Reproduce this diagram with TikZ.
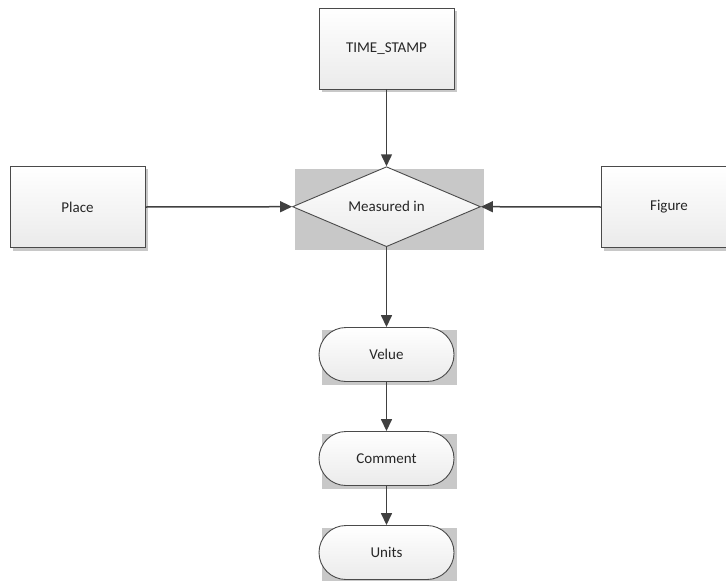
\documentclass[tikz,border=0pt]{standalone}
\usepackage{fontspec}
\setmainfont{Carlito}
\usetikzlibrary{shapes.geometric,arrows.meta,calc,backgrounds}
\definecolor{edgec}{HTML}{4A4A4A}
\definecolor{linec}{HTML}{404040}
\definecolor{shadowc}{HTML}{C8C8C8}
\definecolor{textc}{HTML}{262626}
\tikzset{
  shapebase/.style={draw=edgec, line width=0.9pt, top color=white, bottom color=black!8,
    text=textc, font=\fontsize{15pt}{18pt}\selectfont, inner sep=0pt},
  entitybox/.style={shapebase, rectangle, minimum width=135pt, minimum height=81pt},
  relbox/.style={shapebase, diamond, aspect=2.35, minimum width=188pt, minimum height=80pt},
  attrbox/.style={shapebase, rectangle, rounded corners=27pt, minimum width=135pt, minimum height=54pt},
  link/.style={draw=linec, line width=1.5pt, -{Triangle[length=12pt,width=11pt]}}
}
\begin{document}
\begin{tikzpicture}[x=1pt, y=-1pt]
  \useasboundingbox (0,0) rectangle (726,581);
  \clip (0,0) rectangle (726,581);

  % entities
  \node[entitybox] (ts)    at (386.5, 48.5) {TIME\_STAMP};
  \node[entitybox] (place) at (77.5, 207)   {Place};
  \node[entitybox] (fig)   at (669, 207)    {Figure};

  % relationship
  \node[relbox] (meas) at (386.5, 206.7) {Measured in};

  % attributes
  \node[attrbox] (velue)   at (386.5, 354.5) {Velue};
  \node[attrbox] (comment) at (386.5, 458.5) {Comment};
  \node[attrbox] (units)   at (386.5, 552.5) {Units};

  % box-shaped shadows behind every shape
  \begin{scope}[on background layer]
    \foreach \n in {ts,place,fig,meas,velue,comment,units}
      \fill[shadowc] ($(\n.west |- \n.north)+(3,3)$) rectangle ($(\n.east |- \n.south)+(3,3)$);
  \end{scope}

  % connectors
  \draw[link] (ts.south) -- (meas.north);
  \draw[link] (place.east) -- (meas.west);
  \draw[link] (fig.west) -- (meas.east);
  \draw[link] (meas.south) -- (velue.north);
  \draw[link] (velue.south) -- (comment.north);
  \draw[link] (comment.south) -- (units.north);
\end{tikzpicture}
\end{document}
